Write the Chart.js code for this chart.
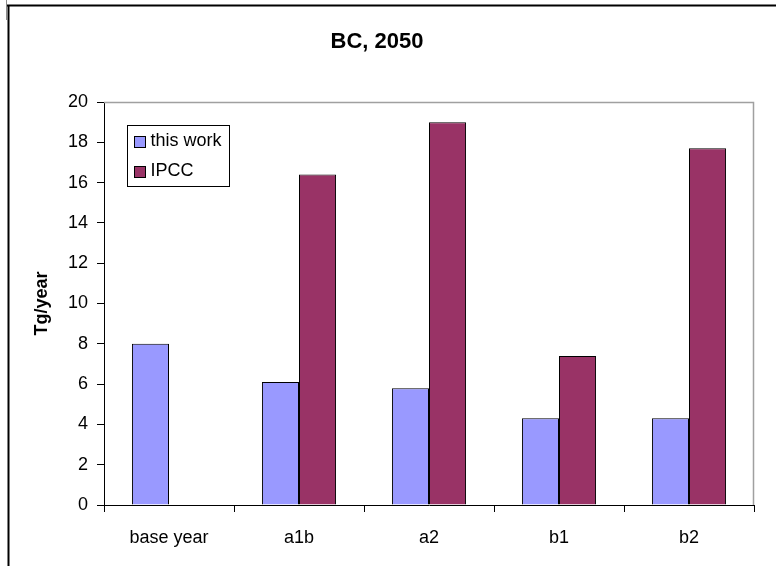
<!DOCTYPE html>
<html>
<head>
<meta charset="utf-8">
<script src="https://cdn.jsdelivr.net/npm/chart.js@4/dist/chart.umd.min.js"></script>
<style>
  html, body { margin: 0; padding: 0; background: #fff; }
  #wrap { width: 781px; height: 566px; position: relative; }
</style>
</head>
<body>
<div id="wrap"><canvas id="c" width="781" height="566"></canvas></div>
<script>
// Scenario categories and emissions (Tg/year)
const categories = ['base year', 'a1b', 'a2', 'b1', 'b2'];
const thisWork = [8.0, 6.1, 5.8, 4.3, 4.3];
const ipcc = [null, 16.4, 19.0, 7.4, 17.7];
const yTicks = [0, 2, 4, 6, 8, 10, 12, 14, 16, 18, 20];

const FONT = '"Liberation Sans", Arial, Helvetica, sans-serif';

// Outer frame lines and the grey top/right edges of the plot area
const framePlugin = {
  id: 'frame',
  beforeDraw(chart) {
    const ctx = chart.ctx;
    ctx.save();
    ctx.fillStyle = '#fff';
    ctx.fillRect(0, 0, chart.width, chart.height);
    ctx.strokeStyle = '#000';
    ctx.lineWidth = 2;
    ctx.beginPath();
    ctx.moveTo(7, 5.5); ctx.lineTo(776, 5.5);
    ctx.stroke();
    ctx.beginPath();
    ctx.moveTo(8.5, 5); ctx.lineTo(8.5, chart.height);
    ctx.stroke();
    ctx.strokeStyle = '#8c8c8c';
    ctx.lineWidth = 1;
    ctx.beginPath();
    ctx.moveTo(6.5, 0); ctx.lineTo(6.5, 20);
    ctx.stroke();
    ctx.restore();
  },
  afterDatasetsDraw(chart) {
    const {ctx, chartArea: a} = chart;
    ctx.save();
    ctx.strokeStyle = '#a0a0a0';
    ctx.lineWidth = 1.5;
    ctx.beginPath();
    ctx.moveTo(a.left, a.top + 0.5);
    ctx.lineTo(a.right - 0.5, a.top + 0.5);
    ctx.lineTo(a.right - 0.5, a.bottom);
    ctx.stroke();
    ctx.restore();
  }
};

// Boxed legend inside the upper-left corner of the plot area
const boxLegend = {
  id: 'boxLegend',
  afterDraw(chart) {
    const {ctx, chartArea: a} = chart;
    const x = a.left + 23.5, y = a.top + 23.5, w = 102, h = 61;
    ctx.save();
    ctx.fillStyle = '#fff';
    ctx.fillRect(x, y, w, h);
    ctx.strokeStyle = '#000';
    ctx.lineWidth = 1;
    ctx.strokeRect(x, y, w, h);
    ctx.font = '18px ' + FONT;
    ctx.textBaseline = 'middle';
    chart.data.datasets.forEach((ds, i) => {
      const cy = y + 16 + i * 30;
      ctx.fillStyle = ds.backgroundColor;
      ctx.fillRect(x + 7, cy - 5, 11, 11);
      ctx.strokeStyle = '#000';
      ctx.lineWidth = 1;
      ctx.strokeRect(x + 7, cy - 5, 11, 11);
      ctx.fillStyle = '#000';
      ctx.fillText(ds.label, x + 23, cy);
    });
    ctx.restore();
  }
};

new Chart(document.getElementById('c'), {
  type: 'bar',
  data: {
    labels: categories,
    datasets: [
      { label: 'this work', data: thisWork, backgroundColor: '#9999FF', borderColor: '#000', borderWidth: 1 },
      { label: 'IPCC', data: ipcc, backgroundColor: '#993366', borderColor: '#000', borderWidth: 1 }
    ]
  },
  options: {
    responsive: false,
    animation: false,
    devicePixelRatio: 1,
    categoryPercentage: 0.57,
    barPercentage: 1.0,
    layout: { padding: { left: 0, right: 27, top: 0, bottom: 0 } },
    plugins: {
      legend: { display: false },
      tooltip: { enabled: false },
      title: {
        display: true,
        text: 'BC, 2050',
        color: '#000',
        font: { family: FONT, size: 22, weight: 'bold' },
        padding: { top: 29, bottom: 46.6 }
      }
    },
    scales: {
      x: {
        grid: { display: true, drawOnChartArea: false, offset: true, tickLength: 7, tickColor: '#000', lineWidth: 1 },
        border: { display: true, color: '#000', width: 1 },
        ticks: { color: '#000', font: { family: FONT, size: 18 }, padding: 15, maxRotation: 0, autoSkip: false },
        afterFit(scale) { scale.height = 61; }
      },
      y: {
        min: 0,
        max: 20,
        afterBuildTicks(scale) { scale.ticks = yTicks.map(v => ({ value: v })); },
        grid: { display: true, drawOnChartArea: false, tickLength: 7, tickColor: '#000', lineWidth: 1 },
        border: { display: true, color: '#000', width: 1 },
        ticks: { color: '#000', font: { family: FONT, size: 18 }, padding: 9 },
        title: {
          display: true,
          text: 'Tg/year',
          color: '#000',
          font: { family: FONT, size: 18, weight: 'bold' },
          padding: { top: 31, bottom: 0 }
        },
        afterFit(scale) { scale.width = 104; }
      }
    }
  },
  plugins: [framePlugin, boxLegend]
});
</script>
</body>
</html>
